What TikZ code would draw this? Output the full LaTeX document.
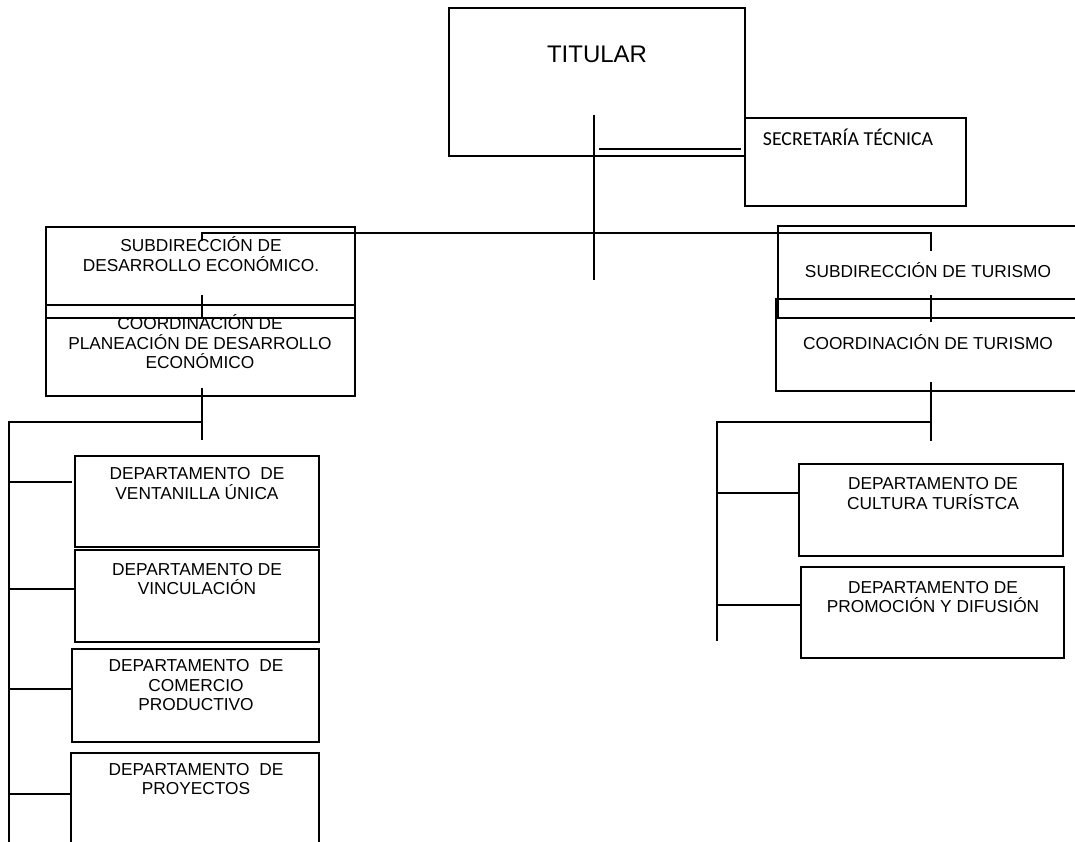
\documentclass[tikz,border=0pt]{standalone}
\usepackage{fontspec}
\setmainfont{Liberation Sans}
\newfontfamily\calib{Carlito}
\begin{document}
\begin{tikzpicture}[x=1pt,y=-1pt,
  box/.style={draw=black,line width=1.3pt,rectangle,inner sep=0pt},
  txt/.style={inner sep=0pt,align=center,font=\fontsize{17.3}{19.5}\selectfont},
  conn/.style={draw=black,line width=1.2pt}]
\clip (0,0) rectangle (1075,841);
\fill[white] (0,0) rectangle (1075,841);
% boxes
\node[box,minimum width=296pt,minimum height=148pt] (tit) at (597,82) {};
\node[box,minimum width=221pt,minimum height=88pt] (sec) at (855.5,162) {};
\node[box,minimum width=309pt,minimum height=91pt] (subde) at (200.5,272.5) {};
\node[box,minimum width=309pt,minimum height=91pt] (coorde) at (200.5,350.5) {};
\node[box,minimum width=307pt,minimum height=92pt] (subtur) at (931.5,272) {};
\node[box,minimum width=309pt,minimum height=92pt] (coortur) at (930.5,345) {};
\node[box,minimum width=244pt,minimum height=91pt] (ven) at (197,501.5) {};
\node[box,minimum width=244pt,minimum height=92pt] (vin) at (197,596) {};
\node[box,minimum width=247pt,minimum height=93pt] (com) at (195.5,695.5) {};
\node[box,minimum width=248pt,minimum height=102pt] (pro) at (195,804) {};
\node[box,minimum width=264pt,minimum height=92pt] (cul) at (931,510) {};
\node[box,minimum width=263pt,minimum height=91pt] (prm) at (932.5,612.5) {};
% texts
\node[inner sep=0pt,font=\fontsize{24}{28}\selectfont] (titT) at (597,54) {TITULAR};
\node[inner sep=0pt,font=\calib\fontsize{19.8}{23}\selectfont] (secT) at (848,137) {SECRETARÍA TÉCNICA};
\node[txt] (subdeT) at (201,254) {SUBDIRECCIÓN DE\\DESARROLLO ECONÓMICO.};
\node[txt] (coordeT) at (200,342) {COORDINACIÓN DE\\PLANEACIÓN DE DESARROLLO\\ECONÓMICO};
\node[txt] (subturT) at (928,270) {SUBDIRECCIÓN DE TURISMO};
\node[txt] (coorturT) at (928,342) {COORDINACIÓN DE TURISMO};
\node[txt] (venT) at (197,483.5) {DEPARTAMENTO\ \ DE\\VENTANILLA ÚNICA};
\node[txt] (vinT) at (197,579) {DEPARTAMENTO DE\\VINCULACIÓN};
\node[txt] (comT) at (196,685.5) {DEPARTAMENTO\ \ DE\\COMERCIO\\PRODUCTIVO};
\node[txt] (proT) at (196,779) {DEPARTAMENTO\ \ DE\\PROYECTOS};
\node[txt] (culT) at (933,493.5) {DEPARTAMENTO DE\\CULTURA TURÍSTCA};
\node[txt] (prmT) at (933,597) {DEPARTAMENTO DE\\PROMOCIÓN Y DIFUSIÓN};
% connector points
\coordinate (tv1) at (594,115);
\coordinate (tv2) at (594,280);
\coordinate (sl1) at (599,149);
\coordinate (sl2) at (741,149);
\coordinate (bLd) at (202,241);
\coordinate (bL) at (202,233);
\coordinate (bR) at (931,233);
\coordinate (bRd) at (931,251);
\coordinate (lt1) at (202,295);
\coordinate (lt2) at (202,317);
\coordinate (ld1) at (202,388);
\coordinate (ld2) at (202,440);
\coordinate (lh) at (202,422);
\coordinate (lv1) at (9,422);
\coordinate (lv2) at (9,845);
\coordinate (rt1) at (931,295);
\coordinate (rt2) at (931,322);
\coordinate (rd1) at (931,382);
\coordinate (rd2) at (931,441);
\coordinate (rh) at (931,422);
\coordinate (rv1) at (717,422);
\coordinate (rv2) at (717,641);
% connectors
\draw[conn] (tv1) -- (tv2);
\draw[conn,line width=2pt] (sl1) -- (sl2);
\draw[conn] (bLd) -- (bL) -- (bR) -- (bRd);
\draw[conn] (lt1) -- (lt2);
\draw[conn] (ld1) -- (ld2);
\draw[conn] (lh) -- (lv1) -- (lv2);
\draw[conn] (rt1) -- (rt2);
\draw[conn] (rd1) -- (rd2);
\draw[conn] (rh) -- (rv1) -- (rv2);
\draw[conn] (lv1 |- 0,482) -- (72,482);
\draw[conn] (lv1 |- 0,589) -- (vin.west |- 0,589);
\draw[conn] (lv1 |- 0,689) -- (com.west |- 0,689);
\draw[conn] (lv1 |- 0,794) -- (pro.west |- 0,794);
\draw[conn] (rv1 |- 0,493) -- (cul.west |- 0,493);
\draw[conn] (rv1 |- 0,605) -- (prm.west |- 0,605);
\end{tikzpicture}
\end{document}
